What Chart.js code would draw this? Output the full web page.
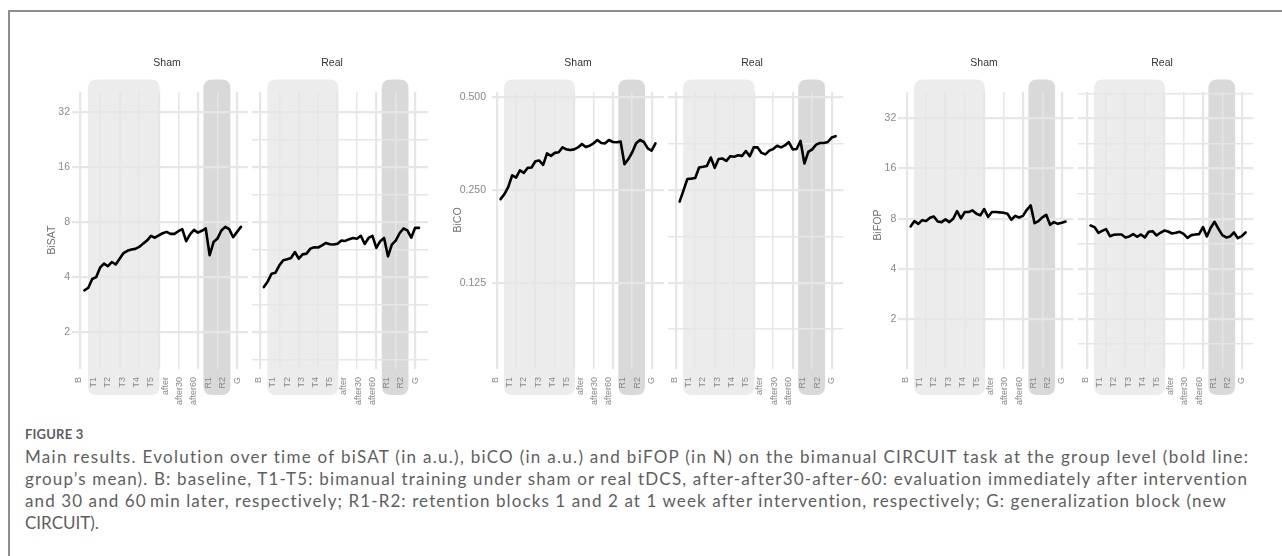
<!DOCTYPE html>
<html>
<head>
<meta charset="utf-8">
<script src="https://cdn.jsdelivr.net/npm/chart.js@4.4.1/dist/chart.umd.min.js"></script>
<style>
  html, body { margin: 0; padding: 0; background: #fff; }
  #fig { position: relative; width: 1282px; height: 556px; overflow: hidden; }
  #frame { position: absolute; left: 8px; top: 10px; width: 1400px; height: 700px;
           border-top: 2px solid #8e8e8e; border-left: 2px solid #8e8e8e; }
  canvas.panel { position: absolute; }
  .cap { position: absolute; left: 25px; white-space: nowrap; color: #5e5e5e;
         font-family: Lato, "Open Sans", sans-serif; }
  .cap-title { top: 425px; font-size: 13px; font-weight: 700; letter-spacing: 0.2px; line-height: 18px; }
  .cap-line { font-size: 17px; line-height: 22px; }
</style>
</head>
<body>
<div id="fig">
  <div id="frame"></div>
  <div class="cap cap-title">FIGURE 3</div>
  <div class="cap cap-line" style="top:446px" data-w="1225">Main results. Evolution over time of biSAT (in a.u.), biCO (in a.u.) and biFOP (in N) on the bimanual CIRCUIT task at the group level (bold line:</div>
  <div class="cap cap-line" style="top:468px" data-w="1222">group’s mean). B: baseline, T1-T5: bimanual training under sham or real tDCS, after-after30-after-60: evaluation immediately after intervention</div>
  <div class="cap cap-line" style="top:490px" data-w="1203">and 30 and 60&#8201;min later, respectively; R1-R2: retention blocks 1 and 2 at 1 week after intervention, respectively; G: generalization block (new</div>
  <div class="cap cap-line" style="top:512px">CIRCUIT).</div>
</div>
<script>
(function () {
  // trial index on the x axis
  var trials = [1, 2, 3, 4, 5, 6, 7, 8, 9, 10, 11, 12, 13, 14, 15, 16, 17, 18, 19, 20,
    21, 22, 23, 24, 25, 26, 27, 28, 29, 30, 31, 32, 33, 34, 35, 36, 37, 38, 39, 40, 41];

  // block labels and where they sit on the trial axis
  var blockLabels = ["B", "T1", "T2", "T3", "T4", "T5", "after", "after30", "after60", "R1", "R2", "G"];
  var blockLabelPos = [-0.4, 3.3, 7.0, 10.7, 14.3, 18.0, 21.6, 25.3, 29.0, 32.6, 36.3, 40.0];
  var gridTrials = [0, 5, 10, 15, 20, 25, 30, 35, 40];

  // shaded phases (trial units): stimulation/training, retention
  var trainingSpan = [1.9, 20.2];
  var retentionSpan = [31.4, 38.3];

  // group means
  var shamBiSAT = [3.40, 3.51, 3.92, 4.01, 4.52, 4.75, 4.60, 4.85, 4.70, 5.05, 5.43, 5.58, 5.67, 5.72,
    5.86, 6.11, 6.35, 6.73, 6.58, 6.77, 6.96, 7.08, 6.91, 6.91, 7.14, 7.33, 6.30, 6.87, 7.26, 7.02,
    7.18, 7.39, 5.28, 6.23, 6.51, 7.20, 7.54, 7.33, 6.62, 7.08, 7.54];
  var realBiSAT = [3.54, 3.80, 4.19, 4.24, 4.65, 4.96, 5.02, 5.10, 5.50, 5.06, 5.34, 5.39, 5.74, 5.84,
    5.82, 5.98, 6.16, 6.06, 6.04, 6.10, 6.35, 6.32, 6.46, 6.56, 6.50, 6.74, 6.08, 6.56, 6.74, 5.79,
    6.30, 6.56, 5.21, 6.04, 6.35, 6.96, 7.39, 7.22, 6.58, 7.45, 7.45];
  var shamBiCO = [0.2335, 0.2424, 0.2558, 0.2791, 0.2742, 0.2893, 0.2842, 0.2950, 0.2958, 0.3100,
    0.3116, 0.3017, 0.3285, 0.3226, 0.3299, 0.3315, 0.3437, 0.3387, 0.3369, 0.3387, 0.3437, 0.3526,
    0.3445, 0.3480, 0.3543, 0.3633, 0.3550, 0.3543, 0.3633, 0.3578, 0.3570, 0.3588, 0.3032, 0.3150,
    0.3315, 0.3543, 0.3633, 0.3578, 0.3413, 0.3354, 0.3543];
  var realBiCO = [0.2293, 0.2494, 0.2715, 0.2722, 0.2734, 0.2958, 0.2973, 0.2993, 0.3186, 0.2950,
    0.3150, 0.3163, 0.3107, 0.3219, 0.3205, 0.3241, 0.3226, 0.3345, 0.3219, 0.3437, 0.3437, 0.3299,
    0.3263, 0.3354, 0.3396, 0.3480, 0.3437, 0.3488, 0.3578, 0.3387, 0.3396, 0.3606, 0.3048, 0.3323,
    0.3387, 0.3508, 0.3551, 0.3551, 0.3578, 0.3700, 0.3738];
  var shamBiFOP = [7.19, 7.75, 7.46, 7.85, 7.75, 8.11, 8.26, 7.70, 7.64, 7.93, 7.64, 8.00, 8.90, 8.04,
    8.78, 8.78, 8.98, 8.57, 8.38, 9.15, 8.22, 8.78, 8.78, 8.74, 8.70, 8.57, 7.89, 8.33, 8.15, 8.33,
    9.06, 9.62, 7.53, 7.75, 8.15, 8.45, 7.36, 7.64, 7.46, 7.57, 7.70];
  var realBiFOP = [7.29, 7.13, 6.59, 6.77, 6.93, 6.29, 6.41, 6.44, 6.44, 6.18, 6.27, 6.47, 6.24, 6.44,
    6.18, 6.68, 6.74, 6.35, 6.59, 6.80, 6.71, 6.53, 6.59, 6.68, 6.50, 6.15, 6.38, 6.44, 6.47, 7.13,
    6.27, 7.07, 7.67, 6.96, 6.38, 6.18, 6.27, 6.62, 6.12, 6.29, 6.62];

  // y axis breaks (log2)
  var powTicks = [2, 4, 8, 16, 32];
  var powTickLabels = ["2", "4", "8", "16", "32"];
  var powMinor = [1.4142, 2.8284, 5.6569, 11.314, 22.627, 45.255];
  var bicoTicks = [0.125, 0.25, 0.5];
  var bicoTickLabels = ["0.125", "0.250", "0.500"];
  var bicoMinor = [0.0884, 0.1768, 0.3536, 0.7071];

  var PLOT_TOP = 92, PLOT_BOTTOM = 369, CANVAS_TOP = 40, CANVAS_BOTTOM = 405;
  var SHADE_TOP = 79.5, SHADE_BOTTOM = 395;
  var GRID = "#e6e6e6";
  var TICK = "#888888";
  var FONT = "'Liberation Sans', Arial, sans-serif";

  var groups = [
    {
      title: "BiSAT", titleX: 52, titleY: 240, canvasLeft: 30, tickPad: 2,
      yMin: 1.266, yMax: 41.0, yMajor: powTicks, yLabels: powTickLabels, yMinor: powMinor,
      panels: [
        { facet: "Sham", facetX: 167, left: 72, right: 248, xMin: -2.17, xMax: 42.8, data: shamBiSAT },
        { facet: "Real", facetX: 332, left: 252, right: 428.3, xMin: -2.06, xMax: 43.4, data: realBiSAT }
      ]
    },
    {
      title: "BiCO", titleX: 458, titleY: 220, canvasLeft: 440, tickPad: 6,
      yMin: 0.0656, yMax: 0.520, yMajor: bicoTicks, yLabels: bicoTickLabels, yMinor: bicoMinor,
      panels: [
        { facet: "Sham", facetX: 578, left: 492, right: 664, xMin: -1.21, xMax: 43.2, data: shamBiCO },
        { facet: "Real", facetX: 752, left: 668.3, right: 843.3, xMin: -1.9, xMax: 42.97, data: realBiCO }
      ]
    },
    {
      title: "BiFOP", titleX: 878, titleY: 225, canvasLeft: 860, tickPad: 2,
      yMin: 1.004, yMax: 46.1, yMajor: powTicks, yLabels: powTickLabels, yMinor: powMinor,
      panels: [
        { facet: "Sham", facetX: 984, left: 898.3, right: 1073.3, xMin: -2.17, xMax: 42.99, data: shamBiFOP },
        { facet: "Real", facetX: 1162, left: 1078.3, right: 1253.3, xMin: -2.17, xMax: 42.99, data: realBiFOP }
      ]
    }
  ];

  function roundRect(ctx, x, y, w, h, r) {
    ctx.beginPath();
    ctx.moveTo(x + r, y);
    ctx.lineTo(x + w - r, y);
    ctx.quadraticCurveTo(x + w, y, x + w, y + r);
    ctx.lineTo(x + w, y + h - r);
    ctx.quadraticCurveTo(x + w, y + h, x + w - r, y + h);
    ctx.lineTo(x + r, y + h);
    ctx.quadraticCurveTo(x, y + h, x, y + h - r);
    ctx.lineTo(x, y + r);
    ctx.quadraticCurveTo(x, y, x + r, y);
    ctx.closePath();
  }

  function makePanel(group, panel, withY) {
    var fig = document.getElementById("fig");
    var cLeft = withY ? group.canvasLeft : Math.floor(panel.left);
    var cRight = Math.ceil(panel.right) + 3;
    var canvas = document.createElement("canvas");
    canvas.className = "panel";
    canvas.width = cRight - cLeft;
    canvas.height = CANVAS_BOTTOM - CANVAS_TOP;
    canvas.style.left = cLeft + "px";
    canvas.style.top = CANVAS_TOP + "px";
    canvas.style.width = canvas.width + "px";
    canvas.style.height = canvas.height + "px";
    fig.appendChild(canvas);

    var yAxisWidth = withY ? panel.left - cLeft : 0;

    var decor = {
      id: "decor",
      beforeDraw: function (chart) {
        var ctx = chart.ctx;
        var xs = chart.scales.x;
        ctx.save();
        [[trainingSpan, "#ececec"], [retentionSpan, "#d9d9d9"]].forEach(function (s) {
          var x0 = xs.getPixelForValue(s[0][0]);
          var x1 = xs.getPixelForValue(s[0][1]);
          roundRect(ctx, x0, SHADE_TOP - CANVAS_TOP, x1 - x0, SHADE_BOTTOM - SHADE_TOP, 9);
          ctx.fillStyle = s[1];
          ctx.fill();
        });
        ctx.restore();
      },
      afterDraw: function (chart) {
        var ctx = chart.ctx;
        ctx.save();
        ctx.fillStyle = "#333333";
        ctx.font = "10.5px " + FONT;
        ctx.textAlign = "center";
        ctx.textBaseline = "middle";
        ctx.fillText(panel.facet, panel.facetX - cLeft, 63 - CANVAS_TOP);
        if (withY) {
          ctx.translate(group.titleX - cLeft, group.titleY - CANVAS_TOP);
          ctx.rotate(-Math.PI / 2);
          ctx.fillStyle = "#707070";
          ctx.fillText(group.title, 0, 0);
        }
        ctx.restore();
      }
    };

    new Chart(canvas, {
      type: "line",
      data: {
        labels: trials,
        datasets: [{
          data: trials.map(function (t, i) { return { x: t, y: panel.data[i] }; }),
          borderColor: "#000",
          borderWidth: 2.6,
          borderCapStyle: "round",
          borderJoinStyle: "round",
          pointRadius: 0,
          tension: 0,
          fill: false,
          xAxisID: "x",
          yAxisID: "y"
        }]
      },
      options: {
        responsive: false,
        animation: false,
        events: [],
        layout: {
          padding: {
            top: PLOT_TOP - CANVAS_TOP,
            left: withY ? 0 : panel.left - cLeft,
            right: cRight - panel.right,
            bottom: 0
          }
        },
        plugins: { legend: { display: false }, tooltip: { enabled: false } },
        scales: {
          x: {
            type: "linear",
            position: "bottom",
            min: panel.xMin,
            max: panel.xMax,
            grid: { display: false },
            border: { display: false },
            afterBuildTicks: function (axis) {
              axis.ticks = blockLabelPos.map(function (v) { return { value: v }; });
            },
            afterFit: function (axis) { axis.height = CANVAS_BOTTOM - PLOT_BOTTOM; },
            ticks: {
              autoSkip: false,
              minRotation: 90,
              maxRotation: 90,
              padding: 0,
              color: TICK,
              font: { family: FONT, size: 9 },
              callback: function (v, i) { return blockLabels[i]; }
            }
          },
          xg: {
            type: "linear",
            position: "bottom",
            min: panel.xMin,
            max: panel.xMax,
            border: { display: false },
            afterBuildTicks: function (axis) {
              axis.ticks = gridTrials.map(function (v) { return { value: v }; });
            },
            afterFit: function (axis) { axis.height = 0; },
            ticks: { display: false },
            grid: {
              color: GRID,
              drawTicks: false,
              lineWidth: function (c) { return c.tick && c.tick.value % 10 === 0 ? 2.2 : 1.5; }
            }
          },
          y: {
            type: "logarithmic",
            min: group.yMin,
            max: group.yMax,
            border: { display: false },
            afterBuildTicks: function (axis) {
              var t = group.yMajor.map(function (v) { return { value: v, major: true }; });
              group.yMinor.forEach(function (v) {
                if (v > group.yMin && v < group.yMax) t.push({ value: v, major: false });
              });
              axis.ticks = t;
            },
            afterFit: function (axis) { axis.width = yAxisWidth; },
            ticks: {
              display: withY,
              padding: group.tickPad,
              color: TICK,
              font: { family: FONT, size: 10.5 },
              callback: function (v) {
                var i = group.yMajor.indexOf(v);
                return i < 0 ? "" : group.yLabels[i];
              }
            },
            grid: {
              color: GRID,
              drawTicks: false,
              lineWidth: function (c) { return c.tick && c.tick.major ? 2.2 : 1.5; }
            }
          }
        }
      },
      plugins: [decor]
    });
  }

  groups.forEach(function (g) {
    makePanel(g, g.panels[0], true);
    makePanel(g, g.panels[1], false);
  });

  // stretch caption lines to the widths of the printed figure
  var lines = document.querySelectorAll(".cap-line[data-w]");
  lines.forEach(function (el) {
    var target = parseFloat(el.getAttribute("data-w"));
    el.style.display = "inline-block";
    var w = el.getBoundingClientRect().width;
    var n = el.textContent.length;
    if (n > 1) el.style.letterSpacing = ((target - w) / n) + "px";
  });
})();
</script>
</body>
</html>
